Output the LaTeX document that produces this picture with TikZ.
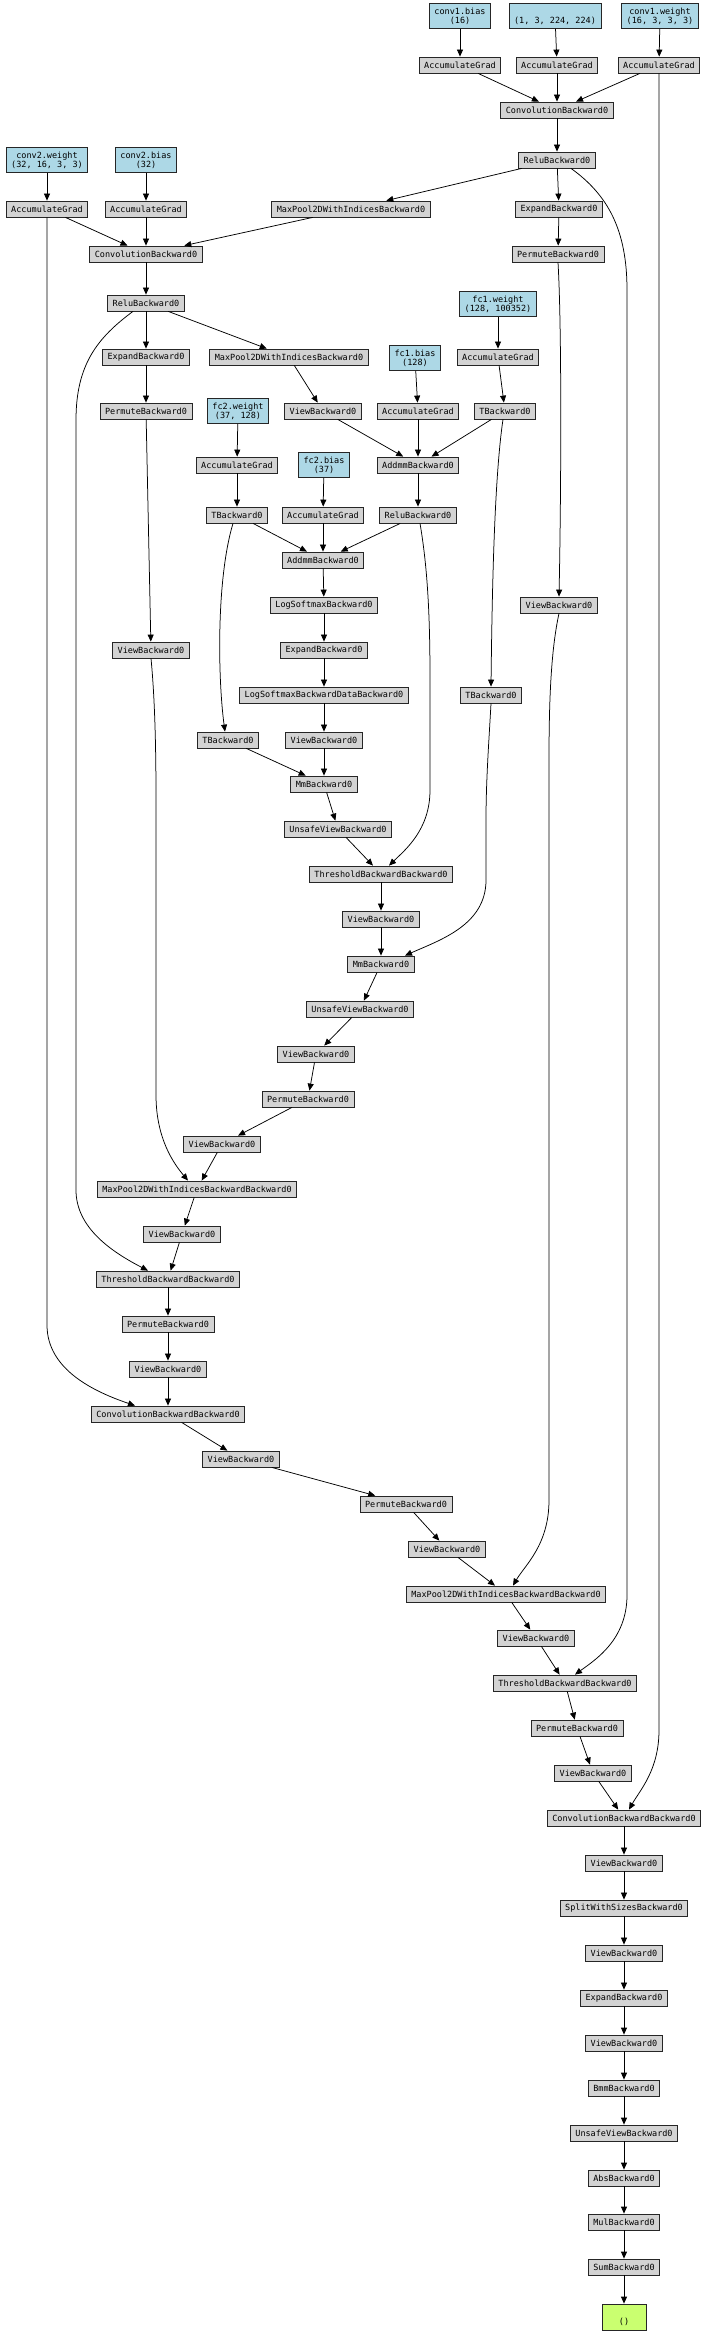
\documentclass[tikz,border=0pt]{standalone}
\usepackage{fontspec}
\newfontfamily\gvmono{DejaVu Sans Mono}
\usetikzlibrary{arrows.meta,calc}
\definecolor{fnfill}{HTML}{D3D3D3}
\definecolor{parfill}{HTML}{ADD8E6}
\definecolor{outfill}{HTML}{CAFF70}
\begin{document}
\begin{tikzpicture}[x=1pt,y=-1pt,
  base/.style={draw=black!85, line width=0.8pt, rectangle, inner xsep=5pt, inner ysep=0pt,
    font=\gvmono\fontsize{8.5}{9}\selectfont, align=center},
  fn/.style={base, fill=fnfill, minimum height=16pt},
  par/.style={base, fill=parfill, minimum height=25pt},
  res/.style={base, fill=outfill, minimum height=26pt, minimum width=44pt},
  edge/.style={-{Triangle[length=7pt,width=6pt]}, line width=0.75pt, black}
]
\fill[white] (0,0) rectangle (705,2333);
\useasboundingbox (0,0) rectangle (705,2333);

\node[par] (c1b) at (460,16) {conv1.bias\\(16)};
\node[par] (inp) at (555,16) {\phantom{(}\\(1, 3, 224, 224)};
\node[par] (c1w) at (660,16) {conv1.weight\\(16, 3, 3, 3)};
\node[fn] (ag1) at (460,65) {AccumulateGrad};
\node[fn] (ag2) at (557,65) {AccumulateGrad};
\node[fn] (ag3) at (659,65) {AccumulateGrad};
\node[fn] (conv1) at (557,110) {ConvolutionBackward0};
\node[fn] (relu1) at (557,160) {ReluBackward0};
\node[par] (c2w) at (47,160) {conv2.weight\\(32, 16, 3, 3)};
\node[par] (c2b) at (146,160) {conv2.bias\\(32)};
\node[fn] (ag4) at (47,209) {AccumulateGrad};
\node[fn] (ag5) at (146,209) {AccumulateGrad};
\node[fn] (mp1) at (351,209) {MaxPool2DWithIndicesBackward0};
\node[fn] (exp1) at (559,209) {ExpandBackward0};
\node[fn] (conv2) at (146,254) {ConvolutionBackward0};
\node[fn] (perm1) at (558,254) {PermuteBackward0};
\node[fn] (relu2) at (146,303) {ReluBackward0};
\node[par] (fc1w) at (498,304) {fc1.weight\\(128, 100352)};
\node[fn] (exp2) at (146,357) {ExpandBackward0};
\node[fn] (mp2) at (289,357) {MaxPool2DWithIndicesBackward0};
\node[par] (fc1b) at (415,358) {fc1.bias\\(128)};
\node[fn] (ag6) at (498,357) {AccumulateGrad};
\node[fn] (perm2) at (146,411) {PermuteBackward0};
\node[par] (fc2w) at (238,411) {fc2.weight\\(37, 128)};
\node[fn] (view1) at (323,411) {ViewBackward0};
\node[fn] (ag7) at (418,411) {AccumulateGrad};
\node[fn] (t1) at (505,411) {TBackward0};
\node[fn] (ag8) at (237,465) {AccumulateGrad};
\node[par] (fc2b) at (324,465) {fc2.bias\\(37)};
\node[fn] (addmm1) at (418,465) {AddmmBackward0};
\node[fn] (t2) at (237,515) {TBackward0};
\node[fn] (ag9) at (323,515) {AccumulateGrad};
\node[fn] (relu3) at (418,515) {ReluBackward0};
\node[fn] (addmm2) at (323,560) {AddmmBackward0};
\node[fn] (lsm) at (324,605) {LogSoftmaxBackward0};
\node[fn] (view2) at (559,605) {ViewBackward0};
\node[fn] (view3) at (151,650) {ViewBackward0};
\node[fn] (exp3) at (324,650) {ExpandBackward0};
\node[fn] (lsmd) at (324,695) {LogSoftmaxBackwardDataBackward0};
\node[fn] (t3) at (491,695) {TBackward0};
\node[fn] (t4) at (228,740) {TBackward0};
\node[fn] (view4) at (324,740) {ViewBackward0};
\node[fn] (mm1) at (324,784) {MmBackward0};
\node[fn] (uv1) at (338,829) {UnsafeViewBackward0};
\node[fn] (thr1) at (381,874) {ThresholdBackwardBackward0};
\node[fn] (view5) at (381,919) {ViewBackward0};
\node[fn] (mm2) at (381,964) {MmBackward0};
\node[fn] (uv2) at (360,1009) {UnsafeViewBackward0};
\node[fn] (view6) at (316,1054) {ViewBackward0};
\node[fn] (perm3) at (308,1099) {PermuteBackward0};
\node[fn] (view7) at (222,1144) {ViewBackward0};
\node[fn] (mpbb1) at (197,1189) {MaxPool2DWithIndicesBackwardBackward0};
\node[fn] (view8) at (182,1234) {ViewBackward0};
\node[fn] (thr2) at (168,1279) {ThresholdBackwardBackward0};
\node[fn] (perm4) at (168,1324) {PermuteBackward0};
\node[fn] (view9) at (168,1369) {ViewBackward0};
\node[fn] (cbb1) at (168,1414) {ConvolutionBackwardBackward0};
\node[fn] (view10) at (241,1459) {ViewBackward0};
\node[fn] (perm5) at (406,1504) {PermuteBackward0};
\node[fn] (view11) at (447,1549) {ViewBackward0};
\node[fn] (mpbb2) at (506,1594) {MaxPool2DWithIndicesBackwardBackward0};
\node[fn] (view12) at (536,1638) {ViewBackward0};
\node[fn] (thr3) at (565,1683) {ThresholdBackwardBackward0};
\node[fn] (perm6) at (577,1728) {PermuteBackward0};
\node[fn] (view13) at (593,1773) {ViewBackward0};
\node[fn] (cbb2) at (624,1818) {ConvolutionBackwardBackward0};
\node[fn] (view14) at (624,1863) {ViewBackward0};
\node[fn] (split) at (624,1908) {SplitWithSizesBackward0};
\node[fn] (view15) at (624,1953) {ViewBackward0};
\node[fn] (exp4) at (624,1998) {ExpandBackward0};
\node[fn] (view16) at (624,2043) {ViewBackward0};
\node[fn] (bmm) at (624,2088) {BmmBackward0};
\node[fn] (uv3) at (624,2133) {UnsafeViewBackward0};
\node[fn] (abs) at (624,2178) {AbsBackward0};
\node[fn] (mul) at (624,2222) {MulBackward0};
\node[fn] (sum) at (624,2267) {SumBackward0};
\node[res] (out) at (624,2317) {\phantom{(}\\()};

\foreach \a/\b in {c1b/ag1, inp/ag2, c1w/ag3, ag1/conv1, ag2/conv1, ag3/conv1, conv1/relu1,
  relu1/mp1, relu1/exp1, c2w/ag4, c2b/ag5, ag4/conv2, ag5/conv2, mp1/conv2, exp1/perm1,
  conv2/relu2, relu2/exp2, relu2/mp2, fc1w/ag6, exp2/perm2, mp2/view1, fc1b/ag7, ag6/t1,
  perm2/view3, fc2w/ag8, view1/addmm1, ag7/addmm1, t1/addmm1, ag8/t2, fc2b/ag9,
  addmm1/relu3, t2/addmm2, ag9/addmm2, relu3/addmm2, addmm2/lsm, lsm/exp3, exp3/lsmd,
  lsmd/view4, t4/mm1, view4/mm1, mm1/uv1, uv1/thr1, thr1/view5, view5/mm2, mm2/uv2,
  uv2/view6, view6/perm3, perm3/view7, view7/mpbb1, mpbb1/view8, view8/thr2, thr2/perm4,
  perm4/view9, view9/cbb1, cbb1/view10, view10/perm5, perm5/view11, view11/mpbb2,
  mpbb2/view12, view12/thr3, thr3/perm6, perm6/view13, view13/cbb2, cbb2/view14,
  view14/split, split/view15, view15/exp4, exp4/view16, view16/bmm, bmm/uv3, uv3/abs,
  abs/mul, mul/sum, sum/out}
  \draw[edge] (\a) -- (\b);

\draw[edge] (perm1.south) .. controls (562,330) and (561,500) .. (view2.north);
\draw[edge] ($(t1.south)+(-2,0)$) .. controls (494,480) and (492,600) .. (t3.north);
\draw[edge] ($(relu1.south)+(14,0)$) .. controls (608,195) and (627,230) .. (627,290)
  -- (627,1595) .. controls (627,1640) and (595,1660) .. ($(thr3.north)+(10,0)$);
\draw[edge] (ag3.south) -- (659,1730) .. controls (659,1770) and (640,1790) .. ($(cbb2.north)+(5,0)$);
\draw[edge] ($(relu2.south)+(-13,0)$) .. controls (97,338) and (76,365) .. (76,420)
  -- (76,1190) .. controls (76,1228) and (112,1252) .. ($(thr2.north)+(-20,0)$);
\draw[edge] (ag4.south) -- (47,1325) .. controls (47,1370) and (95,1392) .. ($(cbb1.north)+(-33,0)$);
\draw[edge] (view3.south) .. controls (155,700) and (156,750) .. (156,800)
  -- (156,1095) .. controls (156,1140) and (175,1165) .. ($(mpbb1.north)+(-9,0)$);
\draw[edge] (view2.south) .. controls (551,650) and (549,700) .. (549,760)
  -- (549,1500) .. controls (549,1545) and (525,1565) .. ($(mpbb2.north)+(7,0)$);
\draw[edge] (t3.south) .. controls (489,740) and (486,780) .. (486,820)
  -- (486,880) .. controls (486,925) and (440,940) .. ($(mm2.north)+(24,0)$);
\draw[edge] ($(relu3.south)+(2,0)$) .. controls (428,570) and (430,620) .. (430,680)
  -- (430,790) .. controls (430,830) and (405,850) .. ($(thr1.north)+(8,0)$);
\draw[edge] ($(t2.south)+(-4,0)$) .. controls (216,580) and (218,680) .. ($(t4.north)+(-3,0)$);
\end{tikzpicture}
\end{document}
